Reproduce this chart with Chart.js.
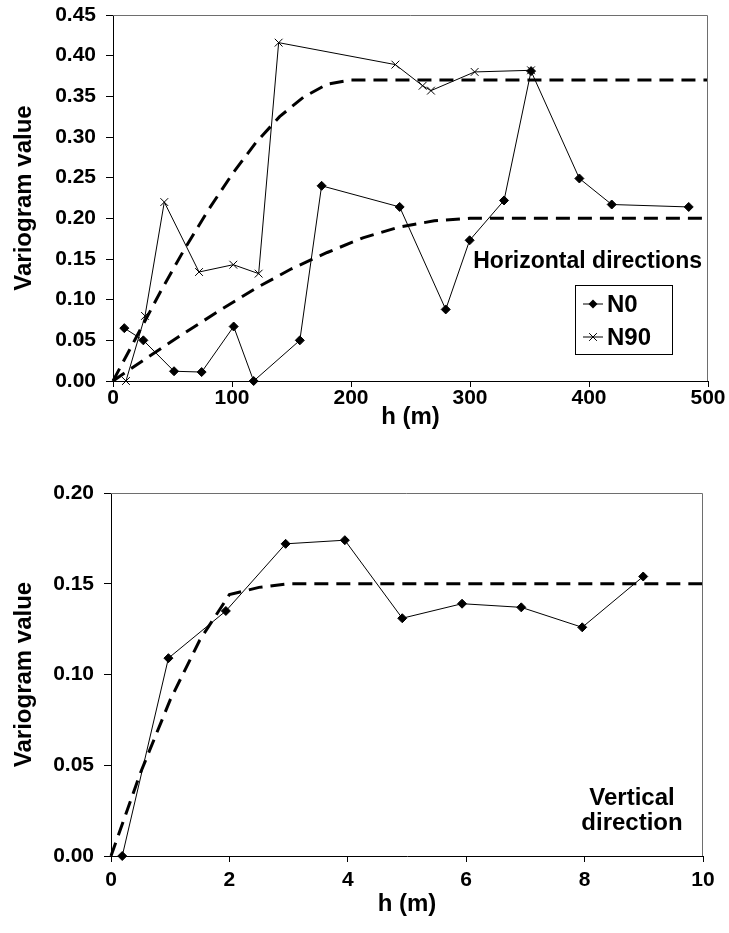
<!DOCTYPE html>
<html>
<head>
<meta charset="utf-8">
<script src="https://cdn.jsdelivr.net/npm/chart.js@4.4.0/dist/chart.umd.min.js"></script>
<style>
  html, body { margin: 0; padding: 0; background: #fff; }
  canvas { display: block; }
</style>
</head>
<body>
<canvas id="horizontal" width="729" height="440"></canvas>
<canvas id="vertical" width="729" height="493"></canvas>
<script>
const FONT = "'Liberation Sans', Arial, Helvetica, sans-serif";

// Experimental variograms, horizontal directions (lag in m, semivariance)
const n0Lag = [9.5, 25.5, 51.3, 74.5, 101.4, 118.2, 157, 175.3, 240.9, 279.6, 299.7, 328.6, 351.3, 391.9, 419.1, 483.8];
const n0Gamma = [0.065, 0.050, 0.012, 0.011, 0.067, 0.000, 0.050, 0.240, 0.214, 0.088, 0.173, 0.222, 0.381, 0.249, 0.217, 0.214];
const n90Lag = [10.9, 26.9, 43.1, 72.3, 101.1, 122.4, 139.2, 237.3, 260.2, 267.2, 303.9, 351.3];
const n90Gamma = [0.000, 0.080, 0.220, 0.134, 0.143, 0.132, 0.416, 0.389, 0.363, 0.357, 0.380, 0.382];

// Fitted models, horizontal
const n90ModelLag = [0, 20, 40, 60, 80, 100, 120, 140, 160, 180, 200, 500];
const n90ModelGamma = [0, 0.055, 0.110, 0.162, 0.210, 0.254, 0.293, 0.325, 0.349, 0.365, 0.370, 0.370];
const n0ModelLag = [0, 30, 60, 90, 120, 150, 180, 210, 240, 270, 300, 500];
const n0ModelGamma = [0, 0.030, 0.059, 0.087, 0.114, 0.138, 0.158, 0.176, 0.189, 0.197, 0.200, 0.200];

// Vertical direction
const vLag = [0.19, 0.97, 1.94, 2.95, 3.95, 4.92, 5.93, 6.93, 7.96, 8.99];
const vGamma = [0.000, 0.109, 0.135, 0.172, 0.174, 0.131, 0.139, 0.137, 0.126, 0.154];
const vModelLag = [0, 0.5, 1, 1.5, 2, 2.5, 3, 10];
const vModelGamma = [0, 0.046, 0.086, 0.119, 0.144, 0.148, 0.150, 0.150];

const hTicks = [0, 100, 200, 300, 400, 500];
const hGammaTicks = [0, 0.05, 0.10, 0.15, 0.20, 0.25, 0.30, 0.35, 0.40, 0.45];
const vTicks = [0, 2, 4, 6, 8, 10];
const vGammaTicks = [0, 0.05, 0.10, 0.15, 0.20];

Chart.defaults.font.family = FONT;
Chart.defaults.color = '#000';

const toPoints = (xs, ys) => xs.map((x, i) => ({ x, y: ys[i] }));

function markerSeries(label, xs, ys, style, radius) {
    return {
        label,
        data: toPoints(xs, ys),
        showLine: true,
        borderColor: '#000',
        backgroundColor: '#000',
        borderWidth: 1,
        pointStyle: style,
        pointRadius: radius,
        pointBorderWidth: 1,
        clip: false
    };
}

function modelSeries(xs, ys) {
    return {
        data: toPoints(xs, ys),
        showLine: true,
        borderColor: '#000',
        borderWidth: 3,
        borderDash: [14, 8],
        pointRadius: 0,
        clip: false
    };
}

function drawMarker(ctx, style, x, y, r) {
    ctx.beginPath();
    if (style === 'rectRot') {
        ctx.moveTo(x, y - r); ctx.lineTo(x + r, y); ctx.lineTo(x, y + r); ctx.lineTo(x - r, y);
        ctx.closePath();
        ctx.fill();
    } else {
        const d = r * Math.SQRT1_2;
        ctx.moveTo(x - d, y - d); ctx.lineTo(x + d, y + d);
        ctx.moveTo(x + d, y - d); ctx.lineTo(x - d, y + d);
        ctx.stroke();
    }
}

// frame edges, annotation text and the boxed key
const frameAndNotes = {
    id: 'frameAndNotes',
    afterDatasetsDraw(chart, args, opts) {
        const { ctx, chartArea: a } = chart;
        ctx.save();
        ctx.strokeStyle = '#6e6e6e';
        ctx.lineWidth = 1;
        ctx.beginPath();
        ctx.moveTo(a.left, a.top + 0.5);
        ctx.lineTo(a.right - 0.5, a.top + 0.5);
        ctx.lineTo(a.right - 0.5, a.bottom);
        ctx.stroke();

        ctx.fillStyle = '#000';
        ctx.textBaseline = 'middle';
        (opts.notes || []).forEach(n => {
            ctx.font = `bold ${n.size}px ${FONT}`;
            ctx.textAlign = n.align || 'left';
            ctx.fillText(n.text, n.x, n.y);
        });

        const key = opts.key;
        if (key) {
            ctx.strokeStyle = '#000';
            ctx.lineWidth = 1;
            ctx.strokeRect(key.x + 0.5, key.y + 0.5, key.w, key.h);
            ctx.font = `bold ${key.size}px ${FONT}`;
            ctx.textAlign = 'left';
            key.items.forEach((it, i) => {
                const cy = key.y + key.first + i * key.step;
                ctx.beginPath();
                ctx.moveTo(key.x + 8, cy);
                ctx.lineTo(key.x + 28, cy);
                ctx.stroke();
                drawMarker(ctx, it.style, key.x + 18, cy, it.radius);
                ctx.fillText(it.text, key.x + 32, cy + 1);
            });
        }
        ctx.restore();
    }
};

function axes(xMax, xTicks, yMax, yTicks, dims) {
    const tickFont = { family: FONT, size: 21, weight: 'bold' };
    const titleFont = { family: FONT, size: 24, weight: 'bold' };
    return {
        x: {
            type: 'linear',
            min: 0, max: xMax,
            afterBuildTicks: s => { s.ticks = xTicks.map(v => ({ value: v })); },
            afterFit: s => { s.height = dims.xHeight; s.paddingLeft = 0; s.paddingRight = 0; },
            grid: { drawOnChartArea: false, drawTicks: true, tickLength: 6, color: '#000' },
            border: { display: true, color: '#000', width: 1 },
            ticks: { font: tickFont, color: '#000', padding: dims.xPad, maxRotation: 0 },
            title: { display: true, text: 'h (m)', font: titleFont, color: '#000', padding: { top: 0, bottom: dims.titleBottom } }
        },
        y: {
            type: 'linear',
            min: 0, max: yMax,
            afterBuildTicks: s => { s.ticks = yTicks.map(v => ({ value: v })); },
            // plot area edges come from layout.padding alone
            afterFit: s => { s.width = dims.yWidth; s.paddingTop = 0; s.paddingBottom = 0; },
            grid: { drawOnChartArea: false, drawTicks: true, tickLength: 7, color: '#000' },
            border: { display: true, color: '#000', width: 1 },
            ticks: { font: tickFont, color: '#000', padding: 10, callback: v => v.toFixed(2) },
            title: { display: true, text: 'Variogram value', font: titleFont, color: '#000', padding: { top: 10, bottom: 0 } }
        }
    };
}

new Chart(document.getElementById('horizontal'), {
    type: 'scatter',
    data: {
        datasets: [
            markerSeries('N0', n0Lag, n0Gamma, 'rectRot', 4.5),
            markerSeries('N90', n90Lag, n90Gamma, 'crossRot', 5.5),
            modelSeries(n90ModelLag, n90ModelGamma),
            modelSeries(n0ModelLag, n0ModelGamma)
        ]
    },
    options: {
        responsive: false,
        animation: false,
        layout: { padding: { top: 15, right: 21, left: 0, bottom: 0 } },
        scales: axes(500, hTicks, 0.45, hGammaTicks, { xHeight: 59, yWidth: 113, titleBottom: 8, xPad: -1 }),
        plugins: {
            legend: { display: false },
            tooltip: { enabled: false },
            frameAndNotes: {
                notes: [{ text: 'Horizontal directions', x: 702, y: 262, size: 23, align: 'right' }],
                key: {
                    x: 575, y: 285, w: 97, h: 69, size: 24, first: 19, step: 33,
                    items: [
                        { text: 'N0', style: 'rectRot', radius: 4.5 },
                        { text: 'N90', style: 'crossRot', radius: 5.5 }
                    ]
                }
            }
        }
    },
    plugins: [frameAndNotes]
});

new Chart(document.getElementById('vertical'), {
    type: 'scatter',
    data: {
        datasets: [
            markerSeries('Vertical', vLag, vGamma, 'rectRot', 4.5),
            modelSeries(vModelLag, vModelGamma)
        ]
    },
    options: {
        responsive: false,
        animation: false,
        layout: { padding: { top: 53, right: 26, left: 0, bottom: 0 } },
        scales: axes(10, vTicks, 0.20, vGammaTicks, { xHeight: 77, yWidth: 111, titleBottom: 14, xPad: 6 }),
        plugins: {
            legend: { display: false },
            tooltip: { enabled: false },
            frameAndNotes: {
                notes: [
                    { text: 'Vertical', x: 632, y: 358, size: 24, align: 'center' },
                    { text: 'direction', x: 632, y: 383, size: 24, align: 'center' }
                ]
            }
        }
    },
    plugins: [frameAndNotes]
});
</script>
</body>
</html>
